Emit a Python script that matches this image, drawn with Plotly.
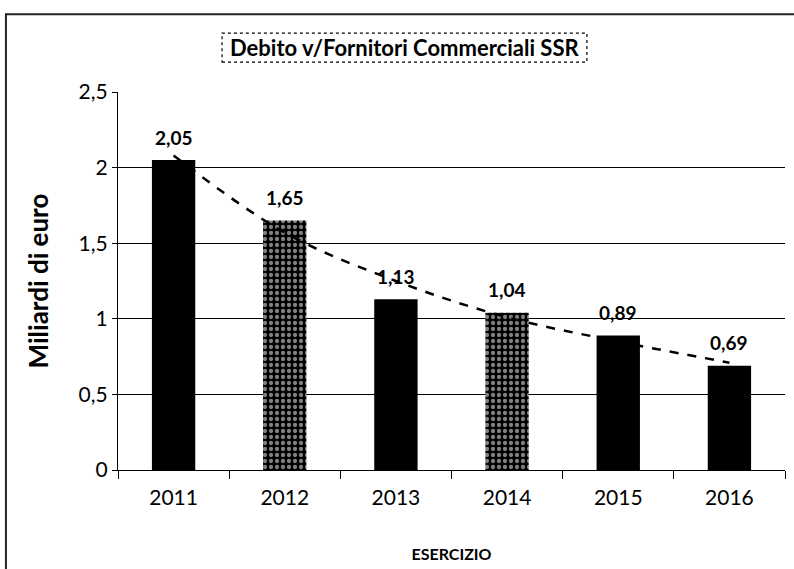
import plotly.graph_objects as go

years = ["2011", "2012", "2013", "2014", "2015", "2016"]
debito = [2.05, 1.65, 1.13, 1.04, 0.89, 0.69]
trend = [2.08, 1.57, 1.25, 1.01, 0.85, 0.71]
patterns = ["", ".", "", ".", "", ""]

FONT = "Lato, 'Open Sans', sans-serif"

fig = go.Figure()
fig.add_trace(go.Bar(
    x=years, y=debito, width=0.39,
    marker=dict(color="black", line=dict(width=0),
                pattern=dict(shape=patterns, fgcolor="white", bgcolor="black",
                             size=6, solidity=0.4, fillmode="overlay")),
    hoverinfo="skip", showlegend=False,
))
fig.add_trace(go.Scatter(
    x=years, y=trend, mode="lines",
    line=dict(color="black", width=2.5, dash="dash", shape="spline"),
    hoverinfo="skip", showlegend=False,
))

for i, v in enumerate(debito):
    fig.add_annotation(x=i, y=v, text=f"<b>{v:.2f}</b>".replace(".", ","),
                       showarrow=False, yshift=23,
                       font=dict(family=FONT, size=19, color="black"))

fig.update_layout(
    width=794, height=569,
    margin=dict(l=118, r=9, t=92, b=99),
    paper_bgcolor="white", plot_bgcolor="white",
    separators=",.",
    font=dict(family=FONT, color="black"),
    showlegend=False,
)
fig.update_yaxes(range=[0, 2.5], dtick=0.5, showgrid=True, gridcolor="black", gridwidth=1.3,
                 showline=True, linecolor="black", linewidth=1.3,
                 ticks="outside", ticklen=5, tickcolor="black",
                 tickfont=dict(size=21, family=FONT), zeroline=False,
                 title=dict(text="<b>Miliardi di euro</b>", font=dict(size=26, family=FONT), standoff=22))
fig.update_xaxes(type="category", range=[-0.5, 5.5], showline=True, linecolor="black", linewidth=1.3,
                 ticks="outside", ticklen=8, tickcolor="black", tickson="boundaries",
                 ticklabelstandoff=9,
                 tickfont=dict(size=21, family=FONT),
                 title=dict(text="<b>ESERCIZIO</b>", font=dict(size=16, family=FONT), standoff=40))

# title with dotted box
fig.add_annotation(xref="paper", yref="paper", x=0.429, y=1.119, text="<b>Debito v/Fornitori Commerciali SSR</b>",
                   showarrow=False, font=dict(size=22, family=FONT), xanchor="center", yanchor="middle")
fig.add_shape(type="rect", xref="paper", yref="paper", x0=0.156, x1=0.703, y0=1.079, y1=1.156,
              line=dict(color="black", width=1.2, dash="dot"))
# outer chart border
fig.add_shape(type="rect", xref="paper", yref="paper", x0=-0.168, x1=1.05, y0=-0.35, y1=1.206,
              line=dict(color="#222", width=2))

fig.write_html("out.html", config={"displayModeBar": False},
               post_script="document.body.style.margin='0';")
